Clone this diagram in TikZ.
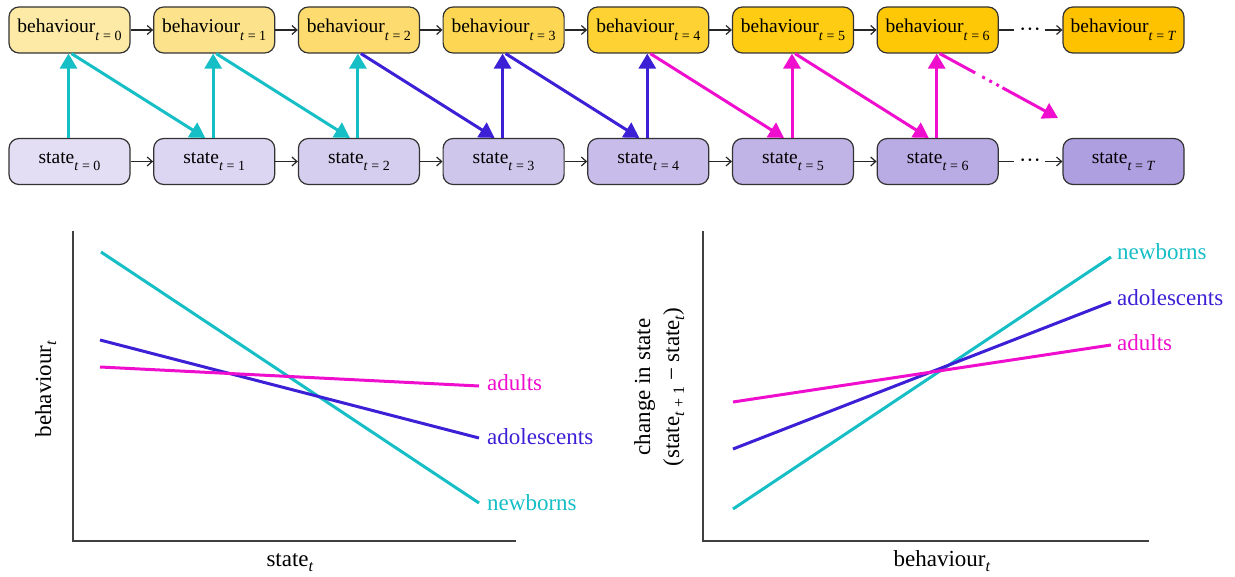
\documentclass[tikz,border=0pt]{standalone}
\usepackage{fontspec}
\setmainfont{Liberation Serif}
\usetikzlibrary{arrows.meta,calc}
\newcommand{\lsub}[1]{\raisebox{-7.5pt}{\fontsize{14}{14}\selectfont #1}}
\newcommand{\psub}[1]{\raisebox{-5pt}{\fontsize{16}{16}\selectfont #1}}
\newcommand{\ti}{\textit{t}}
\definecolor{cyanL}{RGB}{22,190,198}
\definecolor{blueL}{RGB}{60,32,214}
\definecolor{magL}{RGB}{240,14,206}
\definecolor{by0}{RGB}{253,234,166}
\definecolor{by1}{RGB}{252,226,138}
\definecolor{by2}{RGB}{253,219,110}
\definecolor{by3}{RGB}{253,215,84}
\definecolor{by4}{RGB}{254,210,50}
\definecolor{by5}{RGB}{255,204,20}
\definecolor{by6}{RGB}{255,200,6}
\definecolor{byT}{RGB}{255,194,0}
\definecolor{sb0}{RGB}{227,222,244}
\definecolor{sb1}{RGB}{221,214,242}
\definecolor{sb2}{RGB}{214,206,239}
\definecolor{sb3}{RGB}{207,198,236}
\definecolor{sb4}{RGB}{200,189,234}
\definecolor{sb5}{RGB}{192,180,230}
\definecolor{sb6}{RGB}{185,171,227}
\definecolor{sbT}{RGB}{174,159,224}
\begin{document}
\begin{tikzpicture}[x=1pt,y=-1pt,
  box/.style={draw=black!80, line width=1.2pt, rounded corners=10pt,
    minimum width=121pt, minimum height=46pt, inner sep=0pt,
    font=\fontsize{19.5}{24}\selectfont},
  flow/.style={draw=black!85, line width=1.2pt, -{Straight Barb[length=5pt,width=9pt]}},
  infl/.style={line width=3pt, -{Triangle[length=15pt,width=17pt]}},
  curve/.style={line width=3pt},
  axis/.style={draw=black!75, line width=2pt},
  dots/.style={inner sep=0pt, font=\fontsize{22}{22}\selectfont},
  lab/.style={font=\fontsize{23}{27}\selectfont, inner sep=0pt}]
\useasboundingbox (0,0) rectangle (1235,577);
% boxes
\foreach \i in {0,...,6} {
  \node[box, fill=by\i] (b\i) at ({69.5+144.7*\i},30) {behaviour\lsub{\ti{} = \i}};
  \node[box, fill=sb\i] (s\i) at ({69.5+144.7*\i},161.5) {state\lsub{\ti{} = \i}};
}
\node[box, fill=byT] (bT) at (1123.5,30) {behaviour\lsub{\ti{} = \textit{T}}};
\node[box, fill=sbT] (sT) at (1123.5,161.5) {state\lsub{\ti{} = \textit{T}}};
% flows
\foreach \i [evaluate=\i as \j using int(\i+1)] in {0,...,5} {
  \draw[flow] (b\i) -- (b\j);
  \draw[flow] (s\i) -- (s\j);
}
\node[dots] (bd) at (1030,32) {···};
\node[dots] (sd) at (1030,163.5) {···};
\draw[draw=black!85, line width=1.2pt] (b6) -- ([xshift=-5pt]bd.west |- b6.east);
\draw[flow] ([xshift=4pt]bd.east |- bT.west) -- (bT);
\draw[draw=black!85, line width=1.2pt] (s6) -- ([xshift=-5pt]sd.west |- s6.east);
\draw[flow] ([xshift=4pt]sd.east |- sT.west) -- (sT);
% vertical influences
\foreach \i/\c in {0/cyanL,1/cyanL,2/cyanL,3/blueL,4/blueL,5/magL,6/magL} {
  \draw[infl, \c] ([xshift=-1pt]s\i.north) -- ([xshift=-1pt]b\i.south);
}
% diagonal influences
\foreach \i/\j/\c in {0/1/cyanL,1/2/cyanL,2/3/blueL,3/4/blueL,4/5/magL,5/6/magL} {
  \draw[infl, \c] ([xshift=2pt]b\i.south) -- ([xshift=-9pt]s\j.north);
}
\coordinate (m6) at ([xshift=2pt]b6.south);
\coordinate (endT) at (1058,118);
\draw[curve, magL] (m6) -- ($(m6)!0.3!(endT)$);
\draw[curve, magL, dash pattern=on 3pt off 5pt] ($(m6)!0.36!(endT)$) -- ($(m6)!0.5!(endT)$);
\draw[infl, magL] ($(m6)!0.53!(endT)$) -- (endT);
% left plot
\coordinate (Ltop) at (73,231);
\coordinate (L0) at (73,541);
\coordinate (Lr) at (516,541);
\draw[axis] (Ltop) -- (L0) -- (Lr);
\coordinate (Lc1) at (101,252); \coordinate (Lc2) at (479,503);
\coordinate (Lb1) at (100,340); \coordinate (Lb2) at (479,438);
\coordinate (Lm1) at (100,367); \coordinate (Lm2) at (479,386);
\draw[curve, cyanL] (Lc1) -- (Lc2);
\draw[curve, blueL] (Lb1) -- (Lb2);
\draw[curve, magL] (Lm1) -- (Lm2);
\node[lab, anchor=base west, text=magL] (La) at (487,391) {adults};
\node[lab, anchor=base west, text=blueL] (Lad) at (487,444) {adolescents};
\node[lab, anchor=base west, text=cyanL] (Ln) at (487,510) {newborns};
\node[lab, anchor=base] (Lx) at (290,566) {state\psub{\ti}};
\node[lab, anchor=base, rotate=90] (Ly) at (51,389) {behaviour\psub{\ti}};
% right plot
\coordinate (Rtop) at (703,231);
\coordinate (R0) at (703,541);
\coordinate (Rr) at (1149,541);
\draw[axis] (Rtop) -- (R0) -- (Rr);
\coordinate (Rc1) at (733,509); \coordinate (Rc2) at (1111,257);
\coordinate (Rb1) at (733,449); \coordinate (Rb2) at (1111,302);
\coordinate (Rm1) at (733,402); \coordinate (Rm2) at (1111,345);
\draw[curve, cyanL] (Rc1) -- (Rc2);
\draw[curve, blueL] (Rb1) -- (Rb2);
\draw[curve, magL] (Rm1) -- (Rm2);
\node[lab, anchor=base west, text=cyanL] (Rn) at (1117,260) {newborns};
\node[lab, anchor=base west, text=blueL] (Rad) at (1117,306) {adolescents};
\node[lab, anchor=base west, text=magL] (Ra) at (1117,351) {adults};
\node[lab, anchor=base] (Rx) at (942,566) {behaviour\psub{\ti}};
\node[lab, anchor=base, rotate=90] (Ry1) at (650,387) {change in state};
\node[lab, anchor=base, rotate=90] (Ry2) at (679,387) {(state\psub{\ti{} + 1} − state\psub{\ti})};
\end{tikzpicture}
\end{document}
